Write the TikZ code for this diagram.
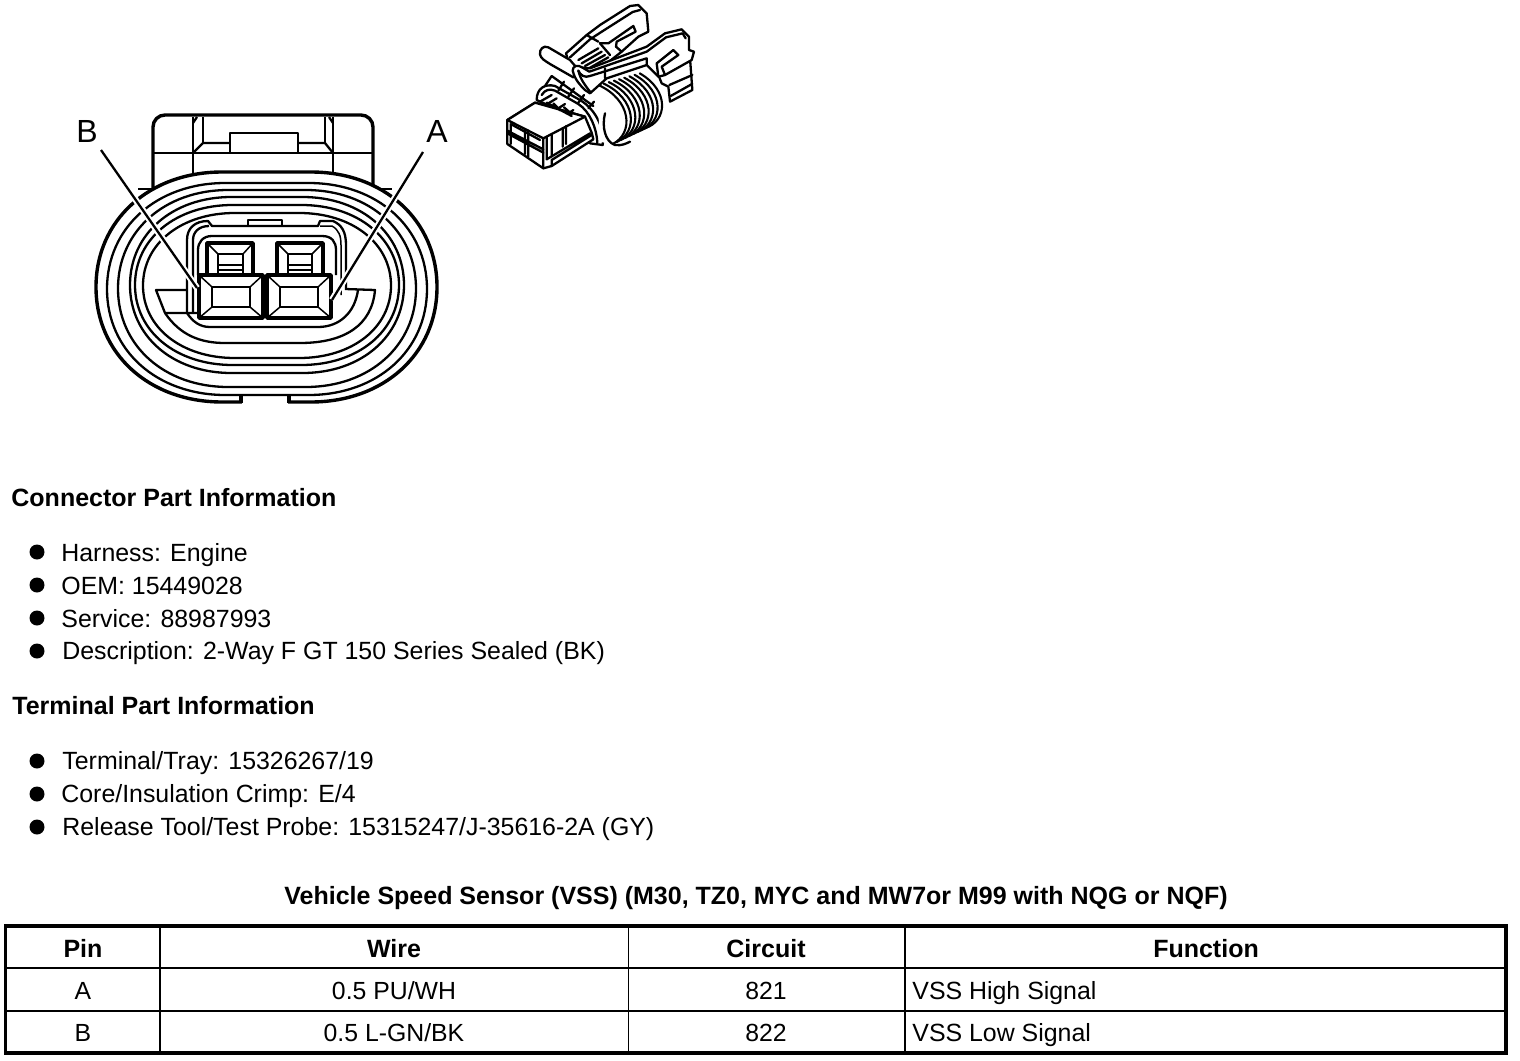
\documentclass[tikz,border=0pt]{standalone}
\usepackage{fontspec}
\setmainfont{Liberation Sans}
\newcommand{\oring}[5]{% style, L,T,R,B
  \pgfmathsetmacro{\cxx}{(#2+#4)/2}\pgfmathsetmacro{\cyy}{(#3+#5)/2}
  \pgfmathsetmacro{\ff}{0.13*(#4-#2)}
  \pgfmathsetmacro{\dxx}{0.58*(\cxx-\ff-#2)}\pgfmathsetmacro{\dyy}{0.58*(#5-#3)/2}
  \draw[#1] (\cxx-\ff,#3) .. controls (\cxx-\ff-\dxx,#3) and (#2,\cyy-\dyy) .. (#2,\cyy)
    .. controls (#2,\cyy+\dyy) and (\cxx-\ff-\dxx,#5) .. (\cxx-\ff,#5) -- (\cxx+\ff,#5)
    .. controls (\cxx+\ff+\dxx,#5) and (#4,\cyy+\dyy) .. (#4,\cyy)
    .. controls (#4,\cyy-\dyy) and (\cxx+\ff+\dxx,#3) .. (\cxx+\ff,#3) -- cycle;}
\newcommand{\frontterm}[4]{% L R inner L inner R
  \draw[thickl,fill=white] (#1,275) rectangle (#2,318);
  \draw[med] (#3,287) rectangle (#4,307);
  \draw[hair] (#1,275) -- (#3,287) (#2,275) -- (#4,287) (#1,318) -- (#3,307) (#2,318) -- (#4,307);}
\newcommand{\rearterm}[4]{%
  \draw[thickl] (#1,275) -- (#1,243) -- (#2,243) -- (#2,275);
  \draw[med] (#3,275) -- (#3,254) -- (#4,254) -- (#4,275);
  \draw[hair] (#1,243) -- (#3,254) (#2,243) -- (#4,254);
  \draw[med] (#3,265) -- (#4,265) (#3,270) -- (#4,270);}
\tikzset{
  thickl/.style={line width=1.7pt,line join=round},
  med/.style={line width=1.15pt,line join=round},
  hair/.style={line width=.75pt},
  bul/.style={circle,fill=black,minimum size=7.5pt,inner sep=0pt},
  txt/.style={font=\fontsize{12.45}{14}\selectfont,anchor=base west,inner sep=0pt},
  hdr/.style={font=\fontsize{12.5}{14}\bfseries\selectfont,anchor=base west,inner sep=0pt},
  cellc/.style={font=\fontsize{12.4}{14}\selectfont,anchor=base,inner sep=0pt},
  cellh/.style={font=\fontsize{12.5}{14}\bfseries\selectfont,anchor=base,inner sep=0pt},
  pin/.style={font=\fontsize{16}{18}\selectfont,inner sep=0pt},
  iso/.style={line width=1.15pt,line join=round,line cap=round,fill=white},
  ison/.style={line width=1.15pt,line join=round,line cap=round},
}
\begin{document}
\begin{tikzpicture}[x=0.5pt,y=-0.5pt]
\useasboundingbox (0,0) rectangle (1520,1060);
% ---- tab
\draw[thickl,rounded corners=6pt] (153,195) -- (153,115) -- (373,115) -- (373,195);
\draw[hair] (153,153) -- (373,153);
\draw[med] (193,123) -- (197,117) (333,123) -- (329,117);
\draw[med] (193,117) -- (193,175) (333,117) -- (333,175) (203,117) -- (203,143) (325,117) -- (325,143);
\draw[med] (193,153) -- (203,143) -- (230,143) (333,153) -- (325,143) -- (298,143);
\draw[med] (230,153) -- (230,133) -- (298,133) -- (298,153);
\draw[med] (138,189) -- (153,189) (373,189) -- (392,189);
% ---- rings
\oring{thickl,fill=white}{96}{172}{437}{402}
\fill[white] (242,396) rectangle (288,406);
\draw[thickl] (241,403) -- (241,395) (289,403) -- (289,395);
\oring{med}{107}{183}{427}{395}
\oring{med}{118}{190}{416}{387}
\oring{med}{130}{197}{404}{373}
\oring{med}{135}{205}{399}{365}
\oring{med}{143}{213}{391}{358}
% ---- flaps / U
\draw[med] (187,290) -- (156,290) -- (165,313) -- (199,313);
\draw[med] (165,313) .. controls (180,335) and (200,343) .. (225,343) -- (300,343) .. controls (345,343) and (372,325) .. (375,290) -- (345,289);
\draw[med] (187,313) .. controls (193,322) and (200,327) .. (210,327) -- (318,327) .. controls (340,327) and (355,312) .. (358,290);
% ---- housing
\draw[med] (187,313) -- (187,240) .. controls (187,228) and (195,221) .. (208,221) -- (212,226) -- (318,226) -- (320,221) -- (333,221) .. controls (342,225) and (346,232) .. (346,245) -- (346,289);
\draw[med] (193,313) -- (193,240) .. controls (193,232) and (199,226) .. (209,226);
\draw[hair] (320,226) -- (332,226) .. controls (339,230) and (341,236) .. (341,245) -- (341,295);
\draw[med] (198,275) -- (198,250) .. controls (198,242) and (203,236) .. (212,236) -- (322,236) .. controls (332,236) and (336,242) .. (336,250) -- (336,275);
\draw[med] (248,226) -- (248,220) -- (282,220) -- (282,226);
% ---- terminals
\rearterm{207}{253}{218}{243}
\rearterm{277}{323}{288}{312}
\frontterm{199}{263}{212}{250}
\frontterm{267}{331}{280}{318}
% ---- pointers
\node[pin] (lblB) at (87,131) {B};
\node[pin] (lblA) at (437,131) {A};
\coordinate (ptB0) at (101,150); \coordinate (ptB1) at (197,288);
\coordinate (ptA0) at (423,152); \coordinate (ptA1) at (332,300);
\draw[white,line width=3.2pt] (ptB0) -- (ptB1) (ptA0) -- (ptA1);
\draw[med] (ptB0) -- (ptB1) (ptA0) -- (ptA1);
% ---- 3D connector (zoomed coordinates)
\begin{scope}[shift={(490,0)},x=0.16667pt,y=-0.16667pt]
 % rear latch
 \draw[iso] (228,160) -- (290,105) -- (330,75) -- (420,18) -- (445,15) -- (470,40) -- (475,95) -- (445,110) -- (395,155) -- (300,230) -- (240,200) -- cycle;
 \draw[ison] (240,172) -- (300,118) -- (340,92) -- (428,36) -- (450,30);
 \draw[ison] (290,105) -- (325,125) (395,155) -- (378,140) -- (380,125) -- (437,95) -- (430,78) -- (355,130) -- (330,130);
 \draw[ison] (265,180) -- (325,145) (275,190) -- (335,155) (285,198) -- (345,165) (295,206) -- (355,172) (330,130) -- (360,165);
 % thumb
 \draw[iso] (240,180) -- (175,142) .. controls (160,135) and (148,148) .. (150,163) .. controls (152,176) and (165,182) .. (180,192) -- (250,232) -- (270,215) -- cycle;
 % strap + collar
 \draw[iso] (140,300) .. controls (140,265) and (165,250) .. (195,258) -- (270,300) .. controls (320,330) and (345,390) .. (338,435) -- (300,430) -- (250,350) -- cycle;
 \draw[ison] (155,285) .. controls (165,268) and (180,266) .. (195,272) -- (265,312) .. controls (300,335) and (320,385) .. (322,428);
 \draw[ison] (185,228) -- (310,318) (165,258) -- (185,228) (205,272) -- (222,245) (235,290) -- (252,265) (265,308) -- (282,285) (295,325) -- (312,305);
 \draw[ison] (150,305) -- (185,285) (175,310) -- (200,295) (205,325) -- (225,312) (235,340) -- (250,330);
 % coil
 \fill[white] (320,250) -- (470,205) -- (530,285) -- (520,370) -- (385,438) -- (330,425) -- cycle;
 \foreach \t in {0,0.115,...,1.0}{
   \draw[line width=1.05pt,line cap=round]
    ({325+135*\t},{255-38*\t}) .. controls ({425+125*\t},{300-30*\t}) and ({432+108*\t},{400-40*\t}) .. ({368+107*\t},{432-52*\t});
 }
 \draw[ison] (345,340) .. controls (335,380) and (345,425) .. (375,435) .. controls (395,438) and (410,430) .. (420,425);
 % right housing
 \draw[iso] (505,225) -- (600,175) -- (607,270) -- (540,305) -- (535,260) -- (515,250) -- cycle;
 \draw[ison] (538,255) -- (607,225) (542,288) -- (606,252);
 % front latch
 \draw[iso] (248,212) .. controls (248,198) and (262,192) .. (278,203) -- (300,205) -- (470,140) -- (525,100) -- (575,88) -- (597,110) -- (597,150) -- (612,155) -- (605,180) -- (525,225) -- (505,230) -- (470,195) -- (350,235) -- (300,280) -- (285,270) .. controls (270,255) and (255,240) .. (248,212);
 \draw[ison] (265,212) .. controls (270,225) and (285,235) .. (300,228) -- (470,175) -- (470,195) (278,203) -- (298,215) -- (470,155) -- (528,112) -- (578,100) -- (587,115);
 \draw[ison] (265,212) .. controls (272,240) and (285,255) .. (300,275) (345,205) -- (345,235);
 \draw[ison] (505,230) -- (500,190) -- (550,150) -- (565,165) -- (515,200) -- (525,225);
 % front body
 \draw[iso] (52,360) -- (135,308) -- (285,350) -- (305,398) -- (310,418) -- (185,498) -- (160,505) -- (52,432) -- cycle;
 \draw[iso] (52,360) -- (135,308) -- (285,350) -- (160,415) -- cycle;
 \draw[ison] (160,415) -- (160,505) (170,410) -- (170,478) (185,402) -- (185,470) (218,385) -- (218,440) (228,378) -- (228,432) (170,478) -- (300,400) (185,498) -- (185,480) -- (305,405);
 \draw[ison] (62,372) -- (150,420) (62,372) -- (62,432) (52,392) -- (160,448) (52,400) -- (160,458) (105,388) -- (105,462) (115,392) -- (115,470);
 \draw[ison] (170,308) -- (245,348) (190,310) -- (212,332) (222,322) -- (245,342);
\end{scope}
% ---- text
\node[hdr] (h1) at (11,506) {Connector Part Information};
\node[bul] (b1) at (37,552) {}; \node[txt] (t1) at (61,561) {Harness: Engine};
\node[bul] (b2) at (37,585) {}; \node[txt] (t2) at (61,594) {OEM: 15449028};
\node[bul] (b3) at (37,618) {}; \node[txt] (t3) at (61,627) {Service: 88987993};
\node[bul] (b4) at (37,651) {}; \node[txt] (t4) at (62,659) {Description: 2-Way F GT 150 Series Sealed (BK)};
\node[hdr] (h2) at (12,714) {Terminal Part Information};
\node[bul] (b5) at (37,761) {}; \node[txt] (t5) at (62,769) {Terminal/Tray: 15326267/19};
\node[bul] (b6) at (37,794) {}; \node[txt] (t6) at (61,802) {Core/Insulation Crimp: E/4};
\node[bul] (b7) at (37,827) {}; \node[txt] (t7) at (62,835) {Release Tool/Test Probe: 15315247/J-35616-2A (GY)};
\node[cellh] (ttl) at (756,904) {Vehicle Speed Sensor (VSS) (M30, TZ0, MYC and MW7or M99 with NQG or NQF)};
% ---- table
\draw[line width=1.75pt] (5.5,926) rectangle (1506,1053);
\draw[line width=1.2pt] (5,968) -- (1506,968);
\draw[line width=1pt] (5,1011) -- (1506,1011);
\draw[line width=.9pt] (160,926) -- (160,1053);
\draw[line width=.5pt] (628,926) -- (628,1053);
\draw[line width=.6pt] (905,926) -- (905,1053);
\node[cellh] (c11) at (83,957) {Pin};
\node[cellh] (c12) at (394,957) {Wire};
\node[cellh] (c13) at (766,957) {Circuit};
\node[cellh] (c14) at (1206,957) {Function};
\node[cellc] (c21) at (83,999) {A};
\node[cellc] (c22) at (394,999) {0.5 PU/WH};
\node[cellc] (c23) at (766,999) {821};
\node[txt] (c24) at (912,999) {VSS High Signal};
\node[cellc] (c31) at (83,1041) {B};
\node[cellc] (c32) at (394,1041) {0.5 L-GN/BK};
\node[cellc] (c33) at (766,1041) {822};
\node[txt] (c34) at (912,1041) {VSS Low Signal};
\end{tikzpicture}
\end{document}
